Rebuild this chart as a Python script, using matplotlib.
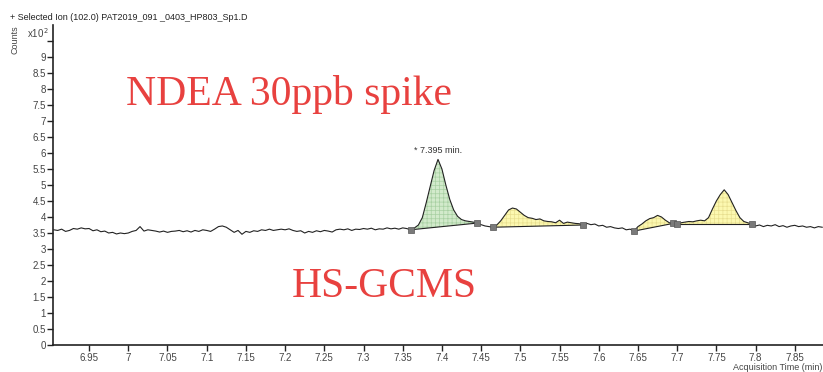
import numpy as np
import matplotlib
matplotlib.use("Agg")
import matplotlib.pyplot as plt

# === 数据 (counts x10^2) ===
t0 = 6.905
dt = 0.005
signal = [
    3.60, 3.58, 3.62, 3.55, 3.58, 3.64, 3.62, 3.66, 3.63, 3.64,  # 6.905
    3.57, 3.60, 3.54, 3.56, 3.50, 3.52, 3.47, 3.50, 3.48, 3.50,  # 6.955
    3.55, 3.58, 3.70, 3.56, 3.60, 3.58, 3.56, 3.53, 3.56, 3.52,  # 7.005
    3.55, 3.56, 3.58, 3.54, 3.57, 3.53, 3.58, 3.55, 3.60, 3.58,  # 7.055
    3.55, 3.62, 3.70, 3.72, 3.68, 3.60, 3.52, 3.58, 3.46, 3.55,  # 7.105
    3.52, 3.57, 3.55, 3.60, 3.58, 3.62, 3.58, 3.60, 3.62, 3.60,  # 7.155
    3.63, 3.58, 3.55, 3.57, 3.50, 3.55, 3.52, 3.57, 3.54, 3.58,  # 7.205
    3.56, 3.53, 3.60, 3.62, 3.60, 3.63, 3.58, 3.62, 3.61, 3.64,  # 7.255
    3.62, 3.65, 3.60, 3.63, 3.62, 3.66, 3.63, 3.65, 3.62, 3.66,  # 7.305
    3.64, 3.60, 3.66, 3.75, 3.98, 4.45, 4.95, 5.45, 5.80, 5.50,  # 7.355
    5.00, 4.55, 4.22, 4.02, 3.92, 3.88, 3.86, 3.84, 3.81, 3.76,  # 7.405
    3.72, 3.70, 3.68, 3.75, 3.88, 4.05, 4.22, 4.28, 4.25, 4.15,  # 7.455
    4.05, 3.98, 3.96, 3.92, 3.94, 3.88, 3.86, 3.85, 3.82, 3.90,  # 7.505
    3.80, 3.84, 3.82, 3.80, 3.79, 3.75, 3.80, 3.76, 3.78, 3.72,  # 7.555
    3.74, 3.68, 3.70, 3.66, 3.64, 3.66, 3.60, 3.62, 3.56, 3.70,  # 7.605
    3.78, 3.88, 3.95, 3.98, 4.05, 4.00, 3.90, 3.82, 3.80, 3.78,  # 7.655
    3.82, 3.84, 3.86, 3.85, 3.88, 3.90, 3.88, 3.98, 4.25, 4.50,  # 7.705
    4.70, 4.85, 4.70, 4.45, 4.20, 3.98, 3.86, 3.82, 3.78, 3.72,  # 7.755
    3.75, 3.70, 3.74, 3.72, 3.76, 3.70, 3.73, 3.68, 3.72, 3.74,  # 7.805
    3.70, 3.72, 3.68, 3.70, 3.66, 3.70, 3.68,                    # 7.855
]

# 积分峰: 起点 / 终点 (min)
peak_start = [7.360, 7.465, 7.645, 7.700]
peak_end = [7.445, 7.580, 7.695, 7.795]
peak_color = ['#d2eacb', '#fcf8b0', '#fcf8b0', '#fcf8b0']
hatch_color = ['#a8d0a2', '#e8df90', '#e8df90', '#e8df90']

x_ticks = [6.95, 7.0, 7.05, 7.1, 7.15, 7.2, 7.25, 7.3, 7.35, 7.4,
           7.45, 7.5, 7.55, 7.6, 7.65, 7.7, 7.75, 7.8, 7.85]
x_tick_labels = ['6.95', '7', '7.05', '7.1', '7.15', '7.2', '7.25', '7.3', '7.35', '7.4',
                 '7.45', '7.5', '7.55', '7.6', '7.65', '7.7', '7.75', '7.8', '7.85']
y_ticks = [0, 0.5, 1, 1.5, 2, 2.5, 3, 3.5, 4, 4.5, 5, 5.5, 6, 6.5, 7, 7.5, 8, 8.5, 9, 9.5]
y_tick_labels = ['0', '0.5', '1', '1.5', '2', '2.5', '3', '3.5', '4', '4.5',
                 '5', '5.5', '6', '6.5', '7', '7.5', '8', '8.5', '9', '']

signal = np.array(signal)
times = t0 + dt * np.arange(len(signal))

# === 绘图 ===
fig = plt.figure(figsize=(8.23, 3.72), dpi=100)
ax = fig.add_axes([53 / 823, 1 - 345 / 372, 1 - 53 / 823, 320 / 372])

small = ['Liberation Sans Narrow', 'Liberation Sans', 'DejaVu Sans']
plt.rcParams['hatch.linewidth'] = 0.5

for s, e, fc, hc in zip(peak_start, peak_end, peak_color, hatch_color):
    i0 = int(np.argmin(np.abs(times - s)))
    i1 = int(np.argmin(np.abs(times - e)))
    tt = times[i0:i1 + 1]
    yy = signal[i0:i1 + 1]
    base = np.interp(tt, [tt[0], tt[-1]], [yy[0], yy[-1]])
    ax.fill_between(tt, base, yy, facecolor=fc, edgecolor=hc, hatch='++++', linewidth=0, zorder=1)
    ax.plot([tt[0], tt[-1]], [yy[0], yy[-1]], color='#222222', lw=0.8, zorder=2)
    ax.plot([tt[0], tt[-1]], [yy[0], yy[-1]], 's', color='#7a7a7a', mec='#555555',
            ms=5, mew=0.5, zorder=4)

ax.plot(times, signal, color='#222222', lw=0.8, zorder=3)

ax.set_xlim(6.904, 7.886)
ax.set_ylim(0, 10)
ax.set_xticks(x_ticks)
ax.set_xticklabels(x_tick_labels, family=small, fontsize=7, color='#444444')
ax.set_yticks(y_ticks)
ax.set_yticklabels(y_tick_labels, family=small, fontsize=7, color='#444444')
ax.tick_params(axis='both', length=4, width=1, color='#222222', pad=1)
ax.tick_params(axis='x', pad=2)
for side in ['top', 'right']:
    ax.spines[side].set_visible(False)
for side in ['left', 'bottom']:
    ax.spines[side].set_linewidth(1.2)
    ax.spines[side].set_color('#222222')

# 标题与轴标签
fig.text(10 / 823, 1 - 17 / 372, '+ Selected Ion (102.0) PAT2019_091 _0403_HP803_Sp1.D',
         family=small, fontsize=6.5, color='#222222', va='center', ha='left')
fig.text(15 / 823, 1 - 40 / 372, 'Counts', rotation=90, family=small, fontsize=6.5,
         color='#444444', va='center', ha='center')
fig.text(27 / 823, 1 - 33 / 372, r'x10$^{\,2}$', family=small, fontsize=7,
         color='#444444', va='center', ha='left')
fig.text(733 / 823, 1 - 367 / 372, 'Acquisition Time (min)', family=small, fontsize=6.5,
         color='#444444', va='center', ha='left')

ax.text(7.395, 5.95, '* 7.395 min.', family=small, fontsize=6.5, color='#333333',
        ha='center', va='bottom')

# 红色标注
red = '#e8413f'
fig.text(289 / 823, 1 - 95 / 372, 'NDEA 30ppb spike', family=['Liberation Serif', 'DejaVu Serif'],
         fontsize=30, color=red, ha='center', va='center')
fig.text(384 / 823, 1 - 287 / 372, 'HS-GCMS', family=['Liberation Serif', 'DejaVu Serif'],
         fontsize=30, color=red, ha='center', va='center')

fig.savefig('out.png', dpi=100)
plt.close()
